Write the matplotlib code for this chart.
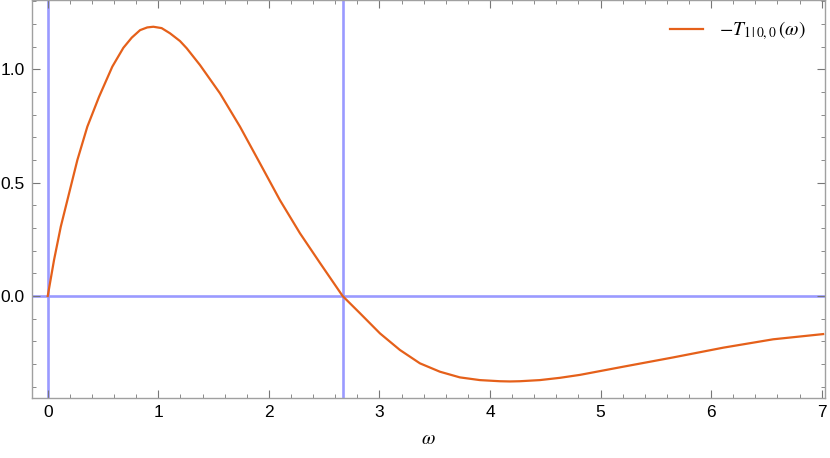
import matplotlib
matplotlib.use("Agg")
import matplotlib.pyplot as plt
from matplotlib.ticker import MultipleLocator

plt.rcParams['mathtext.fontset'] = 'stix'
plt.rcParams['font.family'] = ['Liberation Sans Narrow', 'Liberation Sans', 'DejaVu Sans']

# Data
omega = [0.0, 0.057, 0.118, 0.193, 0.268, 0.358, 0.464, 0.584, 0.684, 0.760, 0.835,
         0.900, 0.955, 1.030, 1.106, 1.196, 1.257, 1.377, 1.558, 1.739, 1.920,
         2.100, 2.281, 2.462, 2.667, 2.824, 3.005, 3.185, 3.366, 3.547, 3.727,
         3.908, 4.089, 4.180, 4.270, 4.451, 4.632, 4.813, 5.204, 5.656, 6.109,
         6.561, 7.013]
neg_T = [0.0, 0.159, 0.306, 0.453, 0.600, 0.747, 0.879, 1.012, 1.095, 1.140, 1.173,
         1.185, 1.188, 1.182, 1.159, 1.125, 1.093, 1.019, 0.894, 0.747, 0.585,
         0.423, 0.277, 0.146, 0.0, -0.076, -0.165, -0.238, -0.297, -0.334, -0.359,
         -0.371, -0.376, -0.377, -0.376, -0.371, -0.361, -0.348, -0.312, -0.271, -0.228,
         -0.191, -0.168]
vlines_x = [0.0, 2.667]
hline_y = [0.0]
x_ticks = [0, 1, 2, 3, 4, 5, 6, 7]
y_ticks = [0.0, 0.5, 1.0]
legend_label = r'$-T_{\mathrm{1\,|\,0,0}}\,(\omega)$'
x_label = r'$\omega$'

fig = plt.figure(figsize=(8.3, 4.58), dpi=100)
ax = fig.add_axes([0.0382, 0.131, 0.9558, 0.869])

line_blue = '#9a9aff'
for xv in vlines_x:
    ax.axvline(xv, color=line_blue, lw=1.9, zorder=1)
for yv in hline_y:
    ax.axhline(yv, color=line_blue, lw=1.9, zorder=1)

ax.plot(omega, neg_T, color='#e5601a', lw=1.6, label=legend_label, zorder=3,
        solid_joinstyle='round')

ax.set_xlim(-0.145, 7.03)
ax.set_ylim(-0.45, 1.306)

ax.set_xticks(x_ticks)
ax.set_xticklabels([str(t) for t in x_ticks])
ax.set_yticks(y_ticks)
ax.set_yticklabels(['%.1f' % t for t in y_ticks])
ax.xaxis.set_minor_locator(MultipleLocator(0.2))
ax.yaxis.set_minor_locator(MultipleLocator(0.1))

for s in ax.spines.values():
    s.set_color('#a0a0a0')
    s.set_linewidth(1.0)

ax.tick_params(which='both', direction='in', top=True, right=True, color='#777777',
               labelsize=12.5, labelcolor='black')
ax.tick_params(which='major', length=5.5, width=0.8, pad=5)
ax.tick_params(which='minor', length=3.0, width=0.6)

ax.set_xlabel(x_label, fontsize=14, labelpad=8)

leg = ax.legend(loc='upper right', frameon=False, fontsize=14, handlelength=1.7,
                handletextpad=0.8, borderaxespad=0.6)

fig.savefig('out.png', dpi=100)
